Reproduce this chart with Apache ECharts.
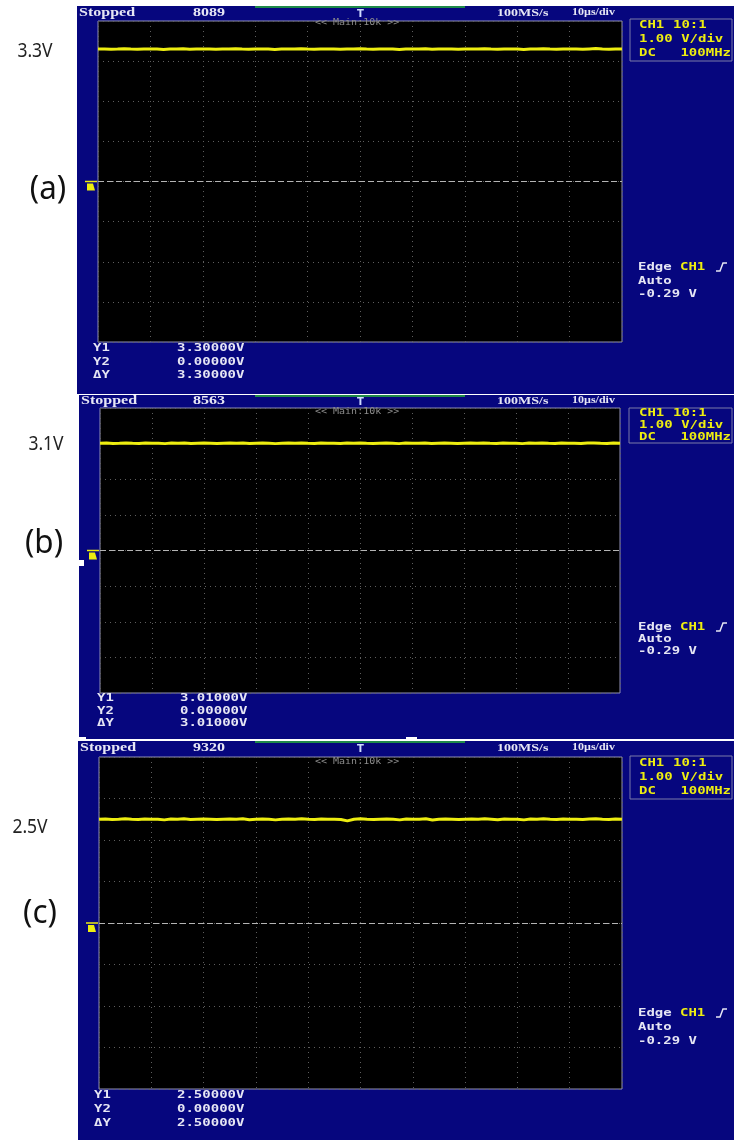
<!DOCTYPE html>
<html><head><meta charset="utf-8">
<script src="https://cdn.jsdelivr.net/npm/echarts@6/dist/echarts.min.js"></script>
<style>html,body{margin:0;padding:0;background:#fff}#c{width:734px;height:1140px}</style>
</head><body><div id="c"></div>
<script>
// ---- data (volts, CH1, 1 V/div, 10 us/div, 81 samples across 10 div) ----
const traceA = [
 3.300,3.305,3.295,3.300,3.310,3.300,3.295,3.305,3.300,
 3.300,3.290,3.305,3.300,3.310,3.295,3.300,3.305,3.300,
 3.295,3.300,3.305,3.310,3.300,3.295,3.300,3.305,3.300,
 3.290,3.300,3.305,3.300,3.310,3.300,3.295,3.305,3.300,
 3.300,3.295,3.305,3.300,3.310,3.300,3.295,3.300,3.305,
 3.300,3.290,3.305,3.300,3.300,3.310,3.295,3.300,3.305,
 3.300,3.295,3.300,3.305,3.300,3.310,3.300,3.295,3.305,
 3.300,3.300,3.290,3.305,3.300,3.310,3.300,3.295,3.305,
 3.300,3.300,3.295,3.305,3.315,3.300,3.295,3.305,3.300];
const traceB = [
 3.010,3.015,3.005,3.010,3.020,3.010,3.005,3.015,3.010,
 3.010,3.000,3.015,3.010,3.020,3.005,3.010,3.015,3.010,
 3.005,3.010,3.015,3.010,3.020,3.005,3.010,3.015,3.010,
 3.000,3.010,3.015,3.010,3.020,3.010,3.005,3.015,3.010,
 3.010,3.005,3.015,3.010,3.020,3.010,3.005,3.010,3.015,
 3.010,3.000,3.015,3.010,3.010,3.020,3.005,3.010,3.015,
 3.010,3.005,3.010,3.015,3.010,3.020,3.010,3.005,3.015,
 3.010,3.010,3.000,3.015,3.010,3.020,3.010,3.005,3.015,
 3.010,3.010,3.005,3.015,3.020,3.010,3.005,3.015,3.010];
const traceC = [
 2.500,2.505,2.495,2.500,2.510,2.500,2.495,2.505,2.500,
 2.500,2.485,2.505,2.500,2.510,2.495,2.500,2.505,2.500,
 2.495,2.500,2.505,2.500,2.510,2.490,2.500,2.505,2.500,
 2.485,2.500,2.505,2.500,2.510,2.500,2.495,2.505,2.500,
 2.500,2.495,2.460,2.500,2.510,2.500,2.495,2.500,2.505,
 2.500,2.485,2.505,2.500,2.500,2.510,2.480,2.500,2.505,
 2.500,2.495,2.500,2.505,2.500,2.510,2.500,2.490,2.505,
 2.500,2.500,2.485,2.505,2.500,2.510,2.500,2.495,2.505,
 2.500,2.500,2.495,2.505,2.510,2.500,2.495,2.505,2.500];
const traces = [traceA, traceB, traceC];
const panelLabels = ['(a)', '(b)', '(c)'];
const levelLabels = ['3.3V', '3.1V', '2.5V'];
const acqCounts = ['8089', '8563', '9320'];
const cursorY1 = ['3.30000V', '3.01000V', '2.50000V'];
const cursorY2 = ['0.00000V', '0.00000V', '0.00000V'];
const cursorDY = ['3.30000V', '3.01000V', '2.50000V'];
const sampleIdx = traceA.map((_, i) => String(i));
const groundLevel = 0;

// ---- layout (pixels) ----
const P = [
 {bx:77, by:6,   bh:388, gl:98,  gt:21,  gw:524, gh:321, head:13,  main:23,  box:[630,19,102,42],  boxL:[25,39,53],      edge:[267,281,294],    cur:[348,362,375],     curX:[93,177], lvl:[35,52],  pan:[48,190]},
 {bx:79, by:395, bh:344, gl:100, gt:408, gw:520, gh:285, head:401, main:412, box:[629,408,103,35], boxL:[413,425,437],   edge:[627,639,651],    cur:[698,711,723],     curX:[97,180], lvl:[46,445], pan:[44,544]},
 {bx:78, by:741, bh:399, gl:99,  gt:757, gw:523, gh:332, head:748, main:762, box:[630,756,102,43], boxL:[763,777,791],   edge:[1013,1027,1041], cur:[1095,1109,1123],  curX:[94,177], lvl:[30,828], pan:[40,914]}
];

const BLUE = '#06067e', WHITE = '#e6e6f4', YEL = '#eded10';
const MONO = '"DejaVu Sans Mono", monospace';
function txt(x, y, s, o) {
  o = o || {};
  return { type:'text', x:x, y:y, z:100, scaleY:o.sy || 1, scaleX:o.sx || 1, silent:true,
    style:{ text:s, x:0, y:0, fill:o.c || WHITE,
      font:(o.w || 'bold') + ' ' + (o.fs || 14) + 'px ' + (o.ff || MONO),
      align:o.a || 'left', verticalAlign:'middle', textAlign:o.a || 'left', textVerticalAlign:'middle' } };
}

const graphics = [];
const grids = [], xAxes = [], yAxes = [], series = [];
P.forEach((p, k) => {
  graphics.push({ type:'rect', z:-10, silent:true, shape:{x:p.bx, y:p.by, width:734 - p.bx, height:p.bh}, style:{fill:BLUE} });
  graphics.push({ type:'rect', z:50, silent:true, shape:{x:255, y:p.by, width:210, height:2}, style:{fill:'#1f8a4a'} });
  graphics.push(txt(p.bx + 2, p.head, 'Stopped', {ff:'"Liberation Serif", serif', fs:16, sy:0.72}));
  graphics.push(txt(193, p.head, acqCounts[k], {ff:'"Liberation Serif", serif', fs:16, sy:0.72}));
  graphics.push(txt(357, p.head + 1, 'T', {ff:'"DejaVu Sans", sans-serif', fs:10, c:'#cfdcff'}));
  graphics.push(txt(497, p.head, '100MS/s', {ff:'"Liberation Serif", serif', fs:14, sy:0.75}));
  graphics.push(txt(572, p.head, '10µs/div', {ff:'"Liberation Serif", serif', fs:12, sy:0.8}));
  graphics.push(txt(315, p.main, '<< Main:10k >>', {fs:10, w:'normal', c:'#8c8c8c', sy:0.8}));
  graphics.push({ type:'rect', z:50, silent:true, shape:{x:p.box[0], y:p.box[1], width:p.box[2], height:p.box[3]}, style:{fill:'none', stroke:'#7a7aa8', lineWidth:1} });
  graphics.push(txt(639, p.boxL[0], 'CH1', {c:YEL, sy:0.78}));
  graphics.push(txt(673, p.boxL[0], '10:1', {c:YEL, sy:0.78}));
  graphics.push(txt(639, p.boxL[1], '1.00 V/div', {c:YEL, sy:0.78}));
  graphics.push(txt(639, p.boxL[2], 'DC', {c:YEL, sy:0.78}));
  graphics.push(txt(731, p.boxL[2], '100MHz', {c:YEL, sy:0.78, a:'right'}));
  graphics.push(txt(638, p.edge[0], 'Edge', {sy:0.78}));
  graphics.push(txt(680, p.edge[0], 'CH1', {c:YEL, sy:0.78}));
  graphics.push({ type:'polyline', z:100, silent:true, shape:{points:[[716,p.edge[0]+4],[720,p.edge[0]+4],[723,p.edge[0]-4],[727,p.edge[0]-4]]}, style:{stroke:WHITE, lineWidth:1.5, fill:'none'} });
  graphics.push(txt(638, p.edge[1], 'Auto', {sy:0.78}));
  graphics.push(txt(638, p.edge[2], '-0.29 V', {sy:0.78}));
  graphics.push(txt(p.curX[0], p.cur[0], 'Y1', {sy:0.78}));
  graphics.push(txt(p.curX[1], p.cur[0], cursorY1[k], {sy:0.78}));
  graphics.push(txt(p.curX[0], p.cur[1], 'Y2', {sy:0.78}));
  graphics.push(txt(p.curX[1], p.cur[1], cursorY2[k], {sy:0.78}));
  graphics.push(txt(p.curX[0], p.cur[2], 'ΔY', {sy:0.78}));
  graphics.push(txt(p.curX[1], p.cur[2], cursorDY[k], {sy:0.78}));
  graphics.push(txt(p.lvl[0], p.lvl[1], levelLabels[k], {ff:'"Noto Sans", sans-serif', fs:19, w:'normal', c:'#222', a:'center', sx:0.92}));
  graphics.push(txt(p.pan[0], p.pan[1], panelLabels[k], {ff:'"Noto Sans", sans-serif', fs:33, w:'normal', c:'#111', a:'center', sx:0.95}));
  const gy = p.gt + p.gh / 2;
  graphics.push({ type:'polyline', z:100, silent:true, shape:{points:[[p.gl-13,gy],[p.gl-1,gy]]}, style:{stroke:YEL, lineWidth:1.5} });
  graphics.push({ type:'polygon', z:100, silent:true, shape:{points:[[p.gl-11,gy+2],[p.gl-5,gy+2],[p.gl-3,gy+9],[p.gl-11,gy+9]]}, style:{fill:YEL} });

  grids.push({ left:p.gl, top:p.gt, width:p.gw, height:p.gh, show:true, backgroundColor:'#000', borderColor:'#9090b4', borderWidth:1 });
  xAxes.push({ gridIndex:k, type:'category', data:sampleIdx, boundaryGap:false,
    axisLine:{show:false}, axisTick:{show:false}, axisLabel:{show:false},
    splitLine:{show:true, interval:7, lineStyle:{color:'#5e5e5e', type:[1,4], width:1}} });
  yAxes.push({ gridIndex:k, type:'value', min:-4, max:4, interval:1,
    axisLine:{show:false}, axisTick:{show:false}, axisLabel:{show:false},
    splitLine:{show:true, lineStyle:{color:'#5e5e5e', type:[1,4], width:1}} });
  series.push({ type:'line', xAxisIndex:k, yAxisIndex:k, data:traces[k], showSymbol:false, silent:true,
    lineStyle:{color:YEL, width:3},
    markLine:{ silent:true, symbol:'none', label:{show:false}, data:[{yAxis:groundLevel}],
      lineStyle:{color:'#b4b4b4', type:[6,3], width:1} } });
});
graphics.push({ type:'rect', z:60, silent:true, shape:{x:78, y:560, width:6, height:6}, style:{fill:'#fff'} });
graphics.push({ type:'rect', z:60, silent:true, shape:{x:79, y:737, width:7, height:3}, style:{fill:'#fff'} });
graphics.push({ type:'rect', z:60, silent:true, shape:{x:406, y:737, width:11, height:4}, style:{fill:'#fff'} });

const chart = echarts.init(document.getElementById('c'), null, {renderer:'canvas'});
chart.setOption({ animation:false, backgroundColor:'#fff', grid:grids, xAxis:xAxes, yAxis:yAxes, series:series, graphic:graphics });
</script></body></html>
